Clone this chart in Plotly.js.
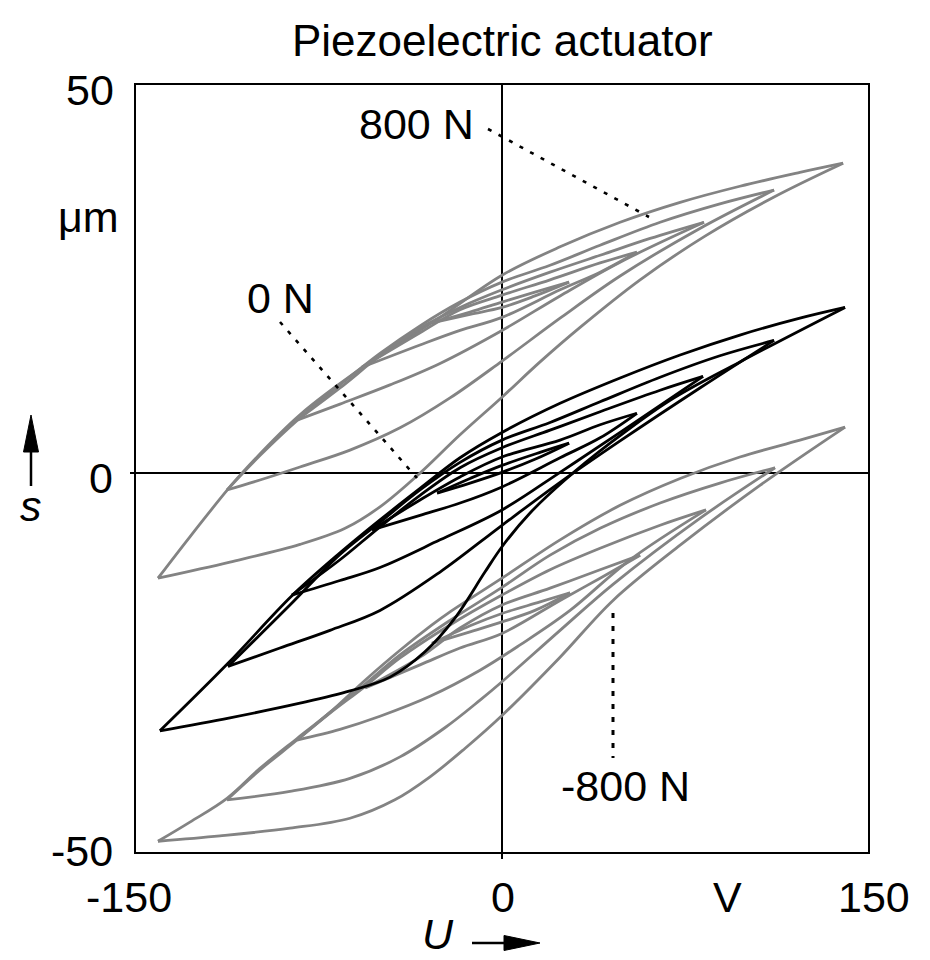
<!DOCTYPE html>
<html>
<head>
<meta charset="utf-8">
<script src="https://cdn.plot.ly/plotly-3.0.1.min.js"></script>
<style>html,body{margin:0;padding:0;background:#fff;}#chart{width:930px;height:960px;}</style>
</head>
<body>
<div id="chart"></div>
<script>
// ---- Data (U in V, s in µm) ----
const chartTitle = 'Piezoelectric actuator';
const xTickVals = [-150, 0, 150];
const xTickLabels = ['-150', '0', '150'];
const yTickVals = [-50, 0, 50];
const yTickLabels = ['-50', '0', '50'];
const xUnit = 'V';
const yUnit = 'μm';
const forceLabels = ['800 N', '0 N', '-800 N'];

// 0 N family (black): ascending and descending branches of 5 loops
const n0AscU = [
  [-140.2,-111.5,-82.8,-62.3,-45.9,-31.6,-19.3,-7.0,0,11.5,25.8,44.3,68.9,97.5,140.6],
  [-112.3,-91.0,-70.5,-50.0,-25.4,0,23.8,48.4,81.1,111.5],
  [-86.1,-66.4,-50.0,-25.4,0,23.8,48.4,82.4],
  [-53.3,-33.6,-17.2,0,23.8,40.2,55.3],
  [-26.6,-13.1,0,13.5,27.5]
];
const n0AscS = [
  [-33.6,-31.9,-30.0,-28.4,-26.6,-23.3,-18.9,-12.9,-9.6,-5.2,-0.9,3.9,9.5,14.5,21.6],
  [-25.2,-22.8,-20.5,-17.9,-12.9,-6.8,-1.2,4.2,11.1,17.3],
  [-15.9,-14.0,-12.3,-8.7,-4.8,0.1,5.3,12.6],
  [-7.4,-5.5,-3.9,-1.8,2.0,4.6,7.8],
  [-2.6,-1.3,0.1,1.8,3.9]
];
const n0DescU = [
  [140.6,122.1,97.5,73.0,48.4,23.8,0,-17.2,-33.6,-50.0,-66.4,-86.1,-112.3,-140.2],
  [111.5,89.3,64.8,40.2,19.7,0,-17.2,-33.6,-50.0,-66.4,-86.9,-112.3],
  [82.4,64.8,40.2,19.7,0,-17.2,-33.6,-50.0,-66.4,-86.1],
  [55.3,40.2,23.8,0,-17.2,-33.6,-53.3],
  [27.5,15.6,0,-13.1,-26.6]
];
const n0DescS = [
  [21.6,20.2,18.0,15.4,12.4,9.1,5.3,2.0,-2.0,-6.1,-10.4,-16.0,-24.8,-33.6],
  [17.3,15.3,12.5,9.3,6.6,4.3,1.4,-2.2,-6.4,-10.6,-17.2,-25.2],
  [12.6,10.8,8.0,5.6,3.3,0.7,-2.9,-7.0,-11.3,-15.9],
  [7.8,6.3,4.3,2.1,-0.5,-3.5,-7.4],
  [3.9,2.7,1.0,-0.7,-2.6]
];

// 800 N family (grey, upper)
const p800AscU = [
  [-141.0,-111.5,-82.8,-64.3,-50.0,-33.6,-17.2,0,15.6,32.0,56.6,83.2,111.5,139.8],
  [-112.7,-99.2,-82.8,-62.3,-41.8,-21.3,0,23.8,48.4,81.1,111.5],
  [-84.0,-66.4,-45.9,-25.4,0,23.8,48.4,82.8],
  [-57.4,-33.6,-17.2,0,23.8,40.2,55.3],
  [-28.7,-13.1,0,13.5,27.5]
];
const p800AscS = [
  [-13.7,-11.6,-9.3,-7.2,-4.4,0.0,5.0,9.9,14.5,19.0,25.2,30.9,36.0,40.4],
  [-2.2,-0.9,0.8,3.0,5.9,9.8,14.6,20.2,25.7,31.9,36.9],
  [6.9,9.0,11.5,14.3,18.6,23.1,27.5,32.7],
  [13.8,16.7,18.6,20.3,23.9,26.2,28.8],
  [19.6,20.7,21.6,23.1,24.9]
];
const p800DescU = [
  [139.8,122.1,97.5,73.0,48.4,23.8,0,-25.4,-57.0,-82.8,-106.6,-112.3,-127.9,-141.0],
  [111.5,89.3,64.8,40.2,19.7,0,-17.2,-33.6,-50.0,-66.4,-82.8,-99.2,-112.7],
  [82.8,60.7,40.2,19.7,0,-17.2,-33.6,-50.0,-66.4,-84.0],
  [55.3,40.2,19.7,0,-17.2,-33.6,-57.4],
  [27.5,13.5,0,-13.1,-28.7]
];
const p800DescS = [
  [40.4,39.2,37.4,35.3,32.7,29.5,25.8,20.3,13.8,7.6,0.0,-2.1,-8.3,-13.7],
  [36.9,35.1,32.7,29.7,27.1,24.9,22.3,19.2,15.6,11.5,7.2,2.3,-2.2],
  [32.7,30.6,28.4,26.2,23.9,21.6,18.9,15.3,11.1,6.9],
  [28.8,27.4,25.2,23.2,21.3,18.3,13.8],
  [24.9,23.6,22.3,21.0,19.6]
];

// -800 N family (grey, lower)
const m800AscU = [
  [-141.0,-115.6,-86.9,-62.3,-43.9,-29.5,-15.2,0,23.8,45.5,73.0,105.7,140.6],
  [-112.7,-86.9,-62.3,-41.8,-23.4,-9.0,0,23.8,45.5,81.1,111.9],
  [-84.0,-66.4,-50.0,-29.5,-9.0,7.4,27.9,52.5,83.6],
  [-56.1,-33.6,-17.2,0,23.8,40.2,56.6],
  [-28.7,-13.1,0,13.5,27.9]
];
const m800AscS = [
  [-48.0,-47.3,-46.3,-45.0,-42.6,-39.6,-35.9,-31.6,-24.0,-16.6,-9.4,-1.6,6.0],
  [-42.6,-41.5,-39.8,-37.0,-33.2,-29.6,-27.2,-20.5,-14.5,-5.9,0.7],
  [-34.8,-33.4,-31.7,-29.1,-25.7,-22.4,-17.9,-11.3,-4.8],
  [-28.0,-25.0,-22.8,-20.9,-16.6,-13.7,-10.7],
  [-22.2,-20.7,-19.4,-17.9,-15.6]
];
const m800DescU = [
  [140.6,122.1,97.5,73.0,48.4,23.8,0,-21.3,-28.7,-41.8,-56.1,-70.5,-84.0,-99.2,-112.7,-127.9,-141.0],
  [111.9,89.3,64.8,40.2,19.7,0,-21.3,-41.8,-56.1,-70.5,-84.0,-99.2,-112.7],
  [83.6,64.8,40.2,19.7,0,-21.3,-41.8,-56.1,-70.5,-84.0],
  [56.6,40.2,19.7,0,-17.2,-33.6,-56.1],
  [27.9,15.6,0,-13.1,-28.7]
];
const m800DescS = [
  [6.0,4.3,2.1,-0.7,-4.2,-8.7,-13.7,-18.1,-19.8,-23.1,-27.0,-31.2,-34.6,-38.5,-42.4,-45.5,-48.0],
  [0.7,-1.3,-3.9,-7.2,-10.7,-14.9,-19.2,-23.7,-27.5,-31.2,-34.8,-38.7,-42.6],
  [-4.8,-6.8,-9.8,-12.6,-15.9,-19.8,-24.1,-27.8,-31.3,-34.8],
  [-10.7,-12.6,-15.0,-17.2,-20.2,-24.0,-28.0],
  [-15.6,-16.8,-18.3,-19.9,-22.2]
];

// ---- Build traces ----
function joinBranches(lists) {
  const out = [];
  lists.forEach((l, i) => { if (i) out.push(null); l.forEach(v => out.push(v)); });
  return out;
}
function familyTrace(ascU, ascS, descU, descS, color, name) {
  return {
    type: 'scatter', mode: 'lines', name: name,
    x: joinBranches(ascU.concat(descU)),
    y: joinBranches(ascS.concat(descS)),
    connectgaps: false,
    line: {color: color, width: 2.8, shape: 'spline', smoothing: 1},
    hoverinfo: 'skip'
  };
}
const GREY = '#838383';
const traces = [
  familyTrace(p800AscU, p800AscS, p800DescU, p800DescS, GREY, forceLabels[0]),
  familyTrace(m800AscU, m800AscS, m800DescU, m800DescS, GREY, forceLabels[2]),
  familyTrace(n0AscU, n0AscS, n0DescU, n0DescS, '#000000', forceLabels[1])
];

// ---- Layout helpers (pixel -> paper) ----
const W = 930, H = 960, L = 136, R = 868, T = 85, B = 852;
const pxX = x => (x - L) / (R - L);
const pxY = y => (B - y) / (B - T);
const FONT = 'Liberation Sans, Arial, sans-serif';
const FS = 43;

function txt(text, x, y, xanchor, opts) {
  return Object.assign({
    text: text, xref: 'paper', yref: 'paper', x: pxX(x), y: pxY(y),
    xanchor: xanchor || 'center', yanchor: 'middle', showarrow: false,
    font: {family: FONT, size: FS, color: '#000'}
  }, opts || {});
}

const annotations = [
  txt(chartTitle, 502, 40, 'center', {font: {family: FONT, size: 44, color: '#000'}}),
  txt(yTickLabels[2], 116, 90, 'right'),
  txt(yUnit, 121, 217, 'right'),
  txt(yTickLabels[1], 115, 478, 'right'),
  txt(yTickLabels[0], 115, 851, 'right'),
  txt(xTickLabels[0], 174, 897, 'right'),
  txt(xTickLabels[1], 503, 897, 'center'),
  txt(xUnit, 727, 897, 'center'),
  txt(xTickLabels[2], 836, 897, 'left'),
  txt('<i>s</i>', 31, 506, 'center'),
  txt('<i>U</i>', 438, 959, 'center', {yanchor: 'bottom', borderpad: 0}),
  txt(forceLabels[0], 416, 124, 'center'),
  txt(forceLabels[1], 280, 298, 'center'),
  txt(forceLabels[2], 625, 786, 'center')
];

function seg(x0, y0, x1, y1, w, dash) {
  return {type: 'line', xref: 'paper', yref: 'paper',
    x0: pxX(x0), y0: pxY(y0), x1: pxX(x1), y1: pxY(y1),
    line: {color: '#000', width: w, dash: dash || 'solid'}};
}
function tri(pts) {
  const p = pts.map((q, i) => (i ? 'L' : 'M') + pxX(q[0]) + ',' + pxY(q[1])).join(' ') + ' Z';
  return {type: 'path', xref: 'paper', yref: 'paper', path: p,
    fillcolor: '#000', line: {color: '#000', width: 1}};
}

const shapes = [
  // leader lines
  seg(488, 129, 649, 217, 2.6, '4px,8px'),
  seg(280, 322, 417, 478, 2.6, '4px,8px'),
  seg(613, 613, 613, 758, 3, '5px,8px'),
  // s arrow
  seg(31, 486, 31, 450, 2.5),
  tri([[31, 415], [23.5, 452], [38.5, 452]]),
  // U arrow
  seg(472, 943, 506, 943, 2.5),
  tri([[540, 943], [504, 935.5], [504, 950.5]])
];

const layout = {
  width: W, height: H,
  margin: {l: L, r: W - R, t: T, b: H - B, pad: 0},
  paper_bgcolor: '#fff', plot_bgcolor: '#fff',
  showlegend: false,
  font: {family: FONT, size: FS, color: '#000'},
  xaxis: {
    range: [-150, 150], showgrid: false,
    zeroline: true, zerolinecolor: '#000', zerolinewidth: 1.6,
    showline: true, mirror: true, linecolor: '#000', linewidth: 2,
    tickvals: [0], ticks: 'outside', ticklen: 5, tickwidth: 1.6, tickcolor: '#000',
    showticklabels: false, fixedrange: true
  },
  yaxis: {
    range: [-49.4, 50.6], showgrid: false,
    zeroline: true, zerolinecolor: '#000', zerolinewidth: 1.6,
    showline: true, mirror: true, linecolor: '#000', linewidth: 2,
    tickvals: [0], ticks: 'outside', ticklen: 4, tickwidth: 1.6, tickcolor: '#000',
    showticklabels: false, fixedrange: true
  },
  annotations: annotations,
  shapes: shapes
};

Plotly.newPlot('chart', traces, layout, {staticPlot: true, displayModeBar: false});
</script>
</body>
</html>
